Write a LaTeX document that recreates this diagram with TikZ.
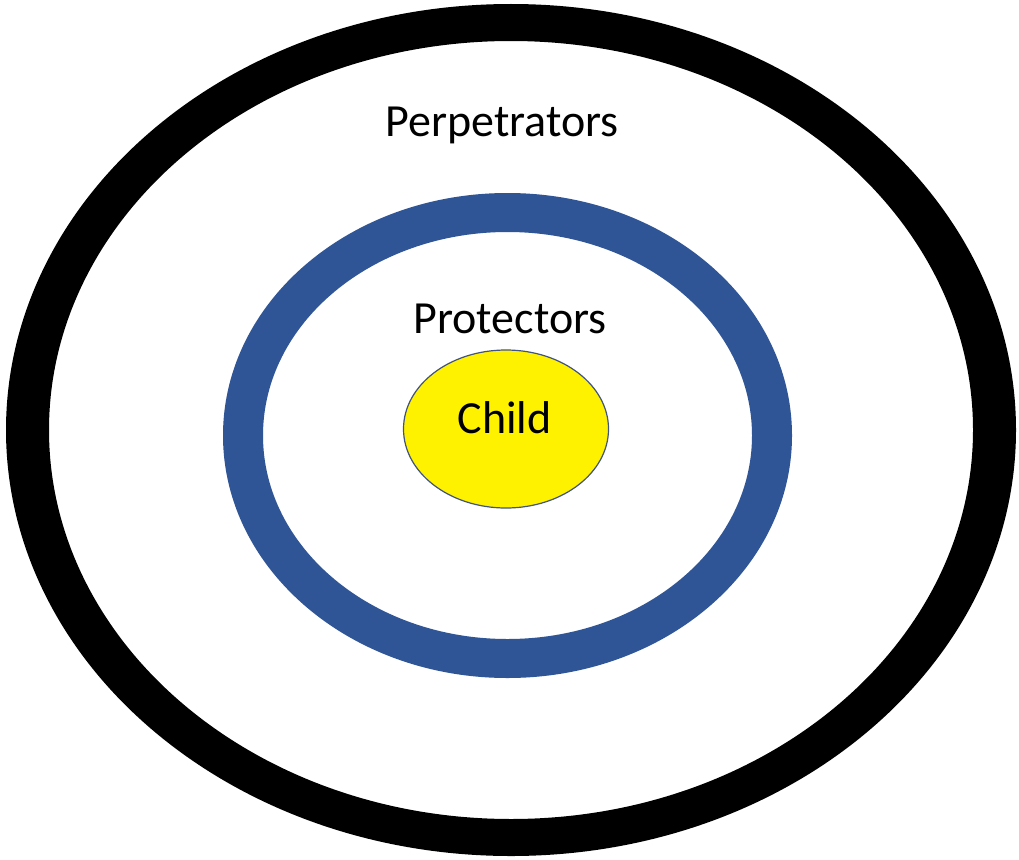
\documentclass[tikz,border=0pt]{standalone}
\usepackage{fontspec}
\setmainfont{Carlito}
\definecolor{ringblue}{HTML}{2F5597}
\definecolor{childedge}{HTML}{41537F}
\begin{document}
\begin{tikzpicture}[x=1pt,y=-1pt,
  lbl/.style={anchor=base,inner sep=0pt,font=\fontsize{46}{50}\selectfont}]
\useasboundingbox (0,0) rectangle (1019,859);
\fill[white] (0,0) rectangle (1019,859);
% outer black ring
\fill[black,even odd rule] (511,430) ellipse [x radius=505,y radius=426]
                           (511,430) ellipse [x radius=462,y radius=389];
% blue ring
\fill[ringblue,even odd rule] (507.5,435.5) ellipse [x radius=284.5,y radius=242.5]
                              (507.5,435.5) ellipse [x radius=244.5,y radius=203.5];
% child
\draw[childedge,line width=1.2pt,fill=yellow] (506,429) ellipse [x radius=102.5,y radius=79];
\node[lbl] (perp) at (502,136) {Perpetrators};
\node[lbl] (prot) at (510,333) {Protectors};
\node[lbl] (child) at (504.5,433) {Child};
\end{tikzpicture}
\end{document}
